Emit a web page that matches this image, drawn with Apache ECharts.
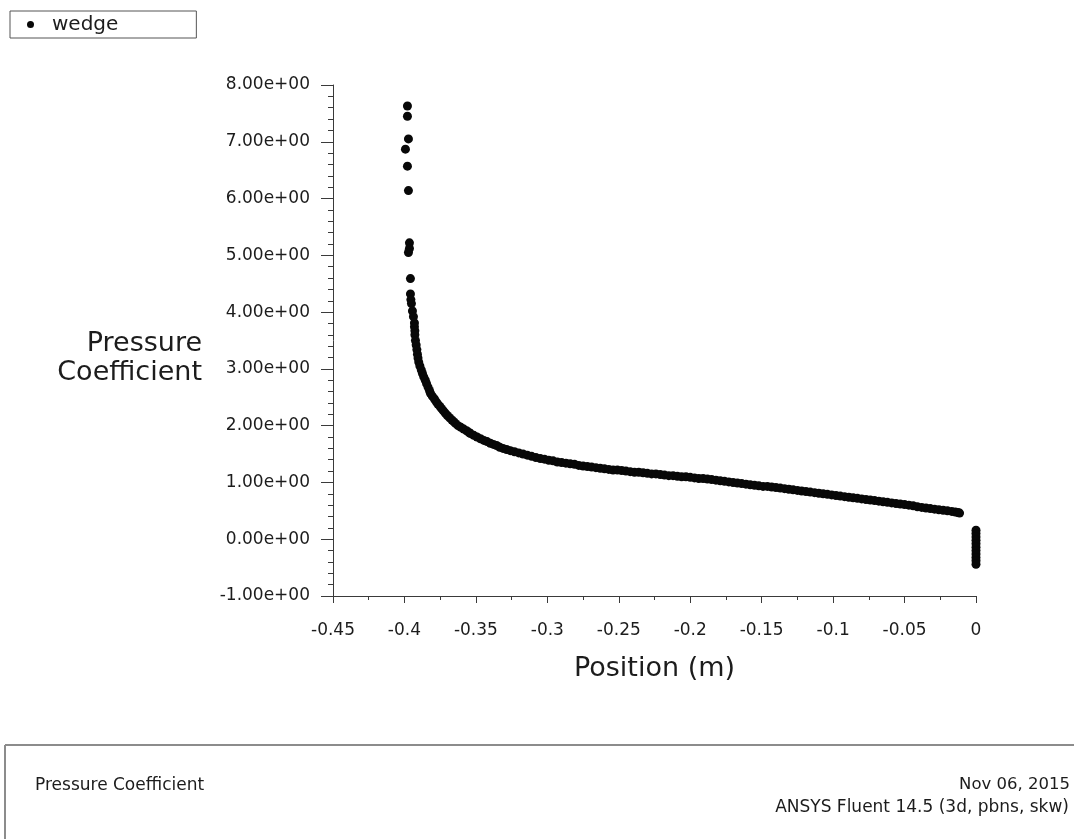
<!DOCTYPE html>
<html>
<head>
<meta charset="utf-8">
<title>Pressure Coefficient</title>
<script src="https://cdn.jsdelivr.net/npm/echarts@6/dist/echarts.min.js"></script>
<style>
  html, body { margin: 0; padding: 0; background: #ffffff; }
  #chart { width: 1074px; height: 839px; }
</style>
</head>
<body>
<div id="chart"></div>
<script>
// Pressure coefficient along the wedge surface, position in metres
const seriesName = 'wedge';

const positionM = [
  // stagnation spike near the leading edge
  -0.3979, -0.3979, -0.3972, -0.3993, -0.3979, -0.3972, -0.3965, -0.3965, -0.3972, -0.3958,
  -0.3958, -0.3955, -0.3951, -0.3944, -0.3937, -0.3930, -0.3930, -0.3927, -0.3927,
  // steep recovery
  -0.3923, -0.3918, -0.3913, -0.3909, -0.3905, -0.3900, -0.3892, -0.3882, -0.3874, -0.3865,
  -0.3854, -0.3845, -0.3835, -0.3825, -0.3818, -0.3805, -0.3790, -0.3777, -0.3766, -0.3752,
  -0.3740, -0.3727, -0.3714, -0.3700, -0.3684, -0.3668, -0.3655, -0.3643, -0.3625, -0.3605,
  -0.3585, -0.3565, -0.3548, -0.3538, -0.3515, -0.3492, -0.3468, -0.3444, -0.3422, -0.3399,
  -0.3377, -0.3355, -0.3333, -0.3310, -0.3285, -0.3259,
  // gradual decline along the face
  -0.3230, -0.3200, -0.3170, -0.3140, -0.3110, -0.3080, -0.3049, -0.3020, -0.2990, -0.2960,
  -0.2930, -0.2900, -0.2870, -0.2840, -0.2810, -0.2780, -0.2750, -0.2720, -0.2690, -0.2660,
  -0.2630, -0.2600, -0.2570, -0.2540, -0.2510, -0.2480, -0.2450, -0.2420, -0.2390, -0.2360,
  -0.2330, -0.2300, -0.2270, -0.2240, -0.2210, -0.2180, -0.2150, -0.2120, -0.2090, -0.2060,
  -0.2030, -0.2000, -0.1970, -0.1940, -0.1910, -0.1880, -0.1850, -0.1820, -0.1790, -0.1760,
  -0.1730, -0.1700, -0.1670, -0.1640, -0.1610, -0.1580, -0.1550, -0.1520, -0.1490, -0.1460,
  -0.1430, -0.1400, -0.1370, -0.1340, -0.1310, -0.1280, -0.1250, -0.1220, -0.1190, -0.1160,
  -0.1130, -0.1100, -0.1070, -0.1040, -0.1010, -0.0980, -0.0950, -0.0920, -0.0890, -0.0860,
  -0.0830, -0.0800, -0.0770, -0.0740, -0.0710, -0.0680, -0.0650, -0.0620, -0.0590, -0.0560,
  -0.0530, -0.0500, -0.0470, -0.0440, -0.0410, -0.0380, -0.0350, -0.0320, -0.0290, -0.0260,
  -0.0230, -0.0200, -0.0170, -0.0145, -0.0126, -0.0115,
  // base of the wedge
  0, 0, 0, 0, 0, 0, 0, 0, 0, 0, 0
];

const pressureCoef = [
  7.63, 7.45, 7.05, 6.87, 6.57, 6.14, 5.22, 5.12, 5.05, 4.59,
  4.32, 4.22, 4.15, 4.02, 3.92, 3.81, 3.74, 3.67, 3.60,
  3.50, 3.42, 3.34, 3.26, 3.19, 3.12, 3.05, 2.98, 2.92, 2.86,
  2.80, 2.74, 2.68, 2.62, 2.57, 2.52, 2.47, 2.42, 2.38, 2.34,
  2.30, 2.26, 2.22, 2.18, 2.14, 2.10, 2.07, 2.04, 2.00, 1.97,
  1.94, 1.91, 1.88, 1.86, 1.83, 1.80, 1.77, 1.74, 1.72, 1.69,
  1.67, 1.65, 1.62, 1.60, 1.58, 1.56,
  1.54, 1.52, 1.50, 1.48, 1.46, 1.44, 1.42, 1.41, 1.39, 1.38,
  1.36, 1.35, 1.34, 1.33, 1.32, 1.30, 1.29, 1.28, 1.27, 1.26,
  1.25, 1.24, 1.23, 1.22, 1.22, 1.21, 1.20, 1.19, 1.18, 1.18,
  1.17, 1.16, 1.15, 1.15, 1.14, 1.13, 1.12, 1.12, 1.11, 1.10,
  1.10, 1.09, 1.08, 1.07, 1.07, 1.06, 1.05, 1.04, 1.03, 1.02,
  1.01, 1.00, 0.99, 0.98, 0.97, 0.96, 0.95, 0.94, 0.93, 0.93,
  0.92, 0.91, 0.90, 0.89, 0.88, 0.87, 0.86, 0.85, 0.84, 0.83,
  0.82, 0.81, 0.80, 0.79, 0.78, 0.77, 0.76, 0.75, 0.74, 0.73,
  0.72, 0.71, 0.70, 0.69, 0.68, 0.67, 0.66, 0.65, 0.64, 0.63,
  0.62, 0.61, 0.60, 0.59, 0.57, 0.56, 0.55, 0.54, 0.53, 0.52,
  0.51, 0.50, 0.49, 0.48, 0.47, 0.46,
  0.16, 0.10, 0.04, -0.02, -0.08, -0.14, -0.20, -0.26, -0.32, -0.38, -0.44
];

const xTickLabels = ['-0.45', '-0.4', '-0.35', '-0.3', '-0.25', '-0.2', '-0.15', '-0.1', '-0.05', '0'];
const yTickLabels = ['-1.00e+00', '0.00e+00', '1.00e+00', '2.00e+00', '3.00e+00',
                     '4.00e+00', '5.00e+00', '6.00e+00', '7.00e+00', '8.00e+00'];

const xMin = -0.45, xMax = 0, xStep = 0.05;
const yMin = -1, yMax = 8, yStep = 1;

const xAxisTitle = 'Position (m)';
const yAxisTitle = 'Pressure\nCoefficient';
const footerLeft = 'Pressure Coefficient';
const footerDate = 'Nov 06, 2015';
const footerSolver = 'ANSYS Fluent 14.5 (3d, pbns, skw)';

const points = positionM.map((x, i) => [x, pressureCoef[i]]);

const FONT = 'DejaVu Sans';
const INK = '#1c1c1c';
const AXIS = '#3a3a3a';

function tickLabel(labels, min, step) {
  return v => labels[Math.round((v - min) / step)] ?? '';
}

const chart = echarts.init(document.getElementById('chart'), null, { renderer: 'canvas' });

chart.setOption({
  backgroundColor: '#ffffff',
  animation: false,
  textStyle: { fontFamily: FONT, color: INK },
  legend: {
    left: 10,
    top: 11,
    orient: 'horizontal',
    data: [{ name: seriesName, icon: 'circle' }],
    itemWidth: 7,
    itemHeight: 7,
    padding: [2, 78, 2, 17],
    borderColor: '#555555',
    borderWidth: 1,
    backgroundColor: '#ffffff',
    selectedMode: false,
    textStyle: { fontFamily: FONT, fontSize: 20, color: INK, padding: [0, 0, 0, 13], lineHeight: 23 }
  },
  grid: { left: 333, right: 98, top: 85, bottom: 243, containLabel: false },
  xAxis: {
    type: 'value',
    min: xMin,
    max: xMax,
    interval: xStep,
    name: xAxisTitle,
    nameLocation: 'middle',
    nameGap: 59,
    nameTextStyle: { fontFamily: FONT, fontSize: 27, color: INK },
    axisLine: { show: true, onZero: false, lineStyle: { color: AXIS, width: 1 } },
    axisTick: { show: true, inside: false, length: 7, lineStyle: { color: AXIS } },
    minorTick: { show: true, splitNumber: 2, length: 4, lineStyle: { color: AXIS } },
    splitLine: { show: false },
    axisLabel: {
      margin: 26,
      fontFamily: FONT,
      fontSize: 17,
      color: INK,
      formatter: tickLabel(xTickLabels, xMin, xStep)
    }
  },
  yAxis: {
    type: 'value',
    min: yMin,
    max: yMax,
    interval: yStep,
    axisLine: { show: true, onZero: false, lineStyle: { color: AXIS, width: 1 } },
    axisTick: { show: true, inside: false, length: 12, lineStyle: { color: AXIS } },
    minorTick: { show: true, splitNumber: 5, length: 5, lineStyle: { color: AXIS } },
    splitLine: { show: false },
    axisLabel: {
      margin: 23,
      fontFamily: FONT,
      fontSize: 17,
      color: INK,
      formatter: tickLabel(yTickLabels, yMin, yStep)
    }
  },
  series: [{
    name: seriesName,
    type: 'scatter',
    data: points,
    symbol: 'circle',
    symbolSize: 9,
    itemStyle: { color: '#080808', opacity: 1 },
    emphasis: { disabled: true }
  }],
  graphic: [
    // y-axis title, right-aligned beside the tick labels
    {
      type: 'text',
      style: {
        text: yAxisTitle, x: 202, y: 358, align: 'right', verticalAlign: 'middle',
        font: '27px "DejaVu Sans"', lineHeight: 29, fill: INK
      }
    },
    // footer frame and captions
    {
      type: 'line',
      shape: { x1: 5, y1: 745, x2: 1074, y2: 745 },
      style: { stroke: '#8c8c8c', lineWidth: 2 }
    },
    {
      type: 'line',
      shape: { x1: 5, y1: 745, x2: 5, y2: 839 },
      style: { stroke: '#8c8c8c', lineWidth: 2 }
    },
    {
      type: 'text',
      left: 35,
      top: 777,
      style: { text: footerLeft, font: '17px "DejaVu Sans"', fill: INK }
    },
    {
      type: 'text',
      right: 4,
      top: 776,
      style: { text: footerDate, font: '16.5px "DejaVu Sans"', fill: INK, align: 'right' }
    },
    {
      type: 'text',
      right: 5,
      top: 799,
      style: { text: footerSolver, font: '17px "DejaVu Sans"', fill: INK, align: 'right' }
    }
  ]
});
</script>
</body>
</html>
